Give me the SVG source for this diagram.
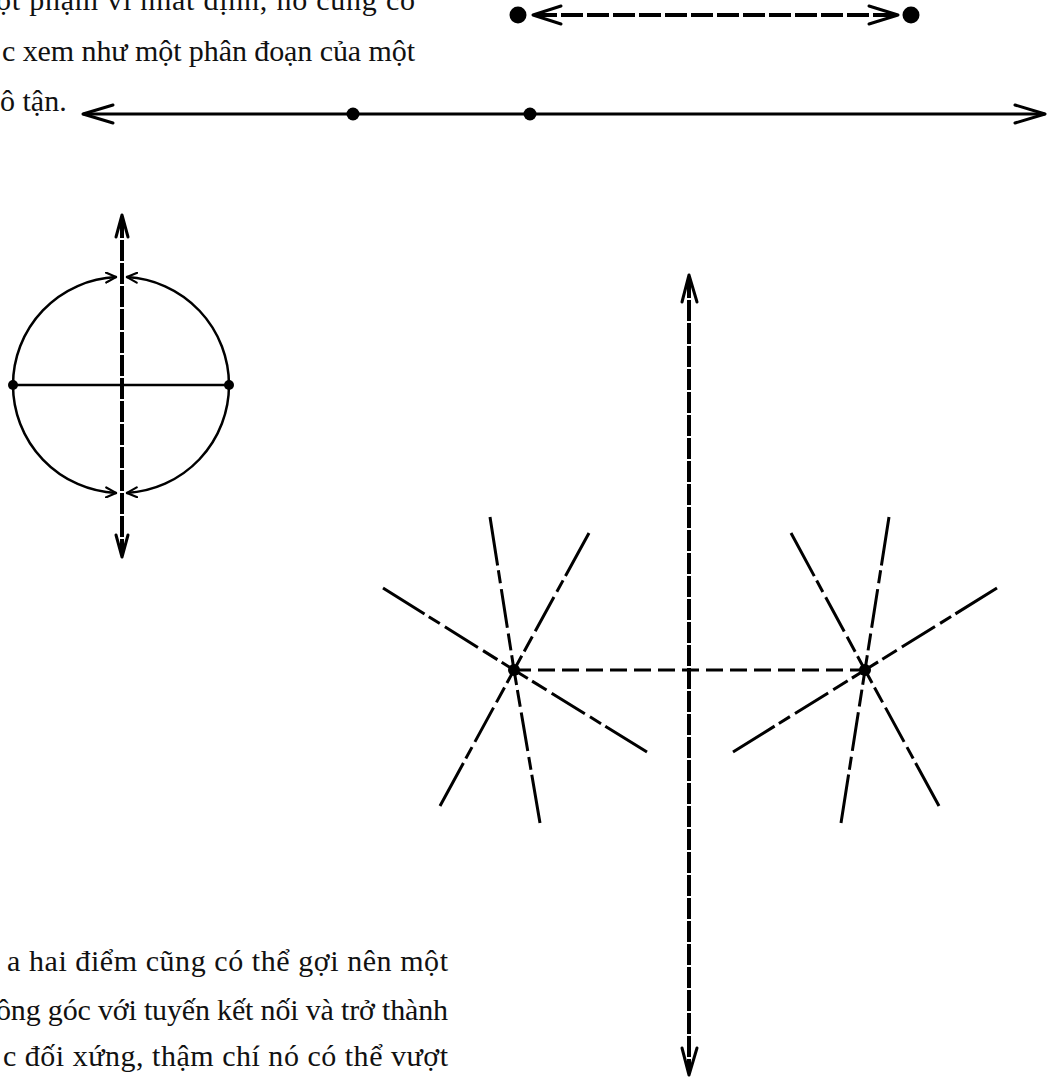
<svg xmlns="http://www.w3.org/2000/svg" width="1048" height="1080" viewBox="0 0 1048 1080">
<style>
.txt{font-family:"Liberation Serif","Times New Roman",serif;font-size:30px;fill:#111}
.ln{stroke:#000;fill:none;stroke-linecap:round;stroke-linejoin:round}
.dot{fill:#000}
.axis{stroke:#000;stroke-width:4;fill:none;stroke-dasharray:21 2}
.head{stroke:#000;stroke-width:3;fill:none;stroke-linecap:round;stroke-linejoin:round}
.star{stroke:#000;stroke-width:3;fill:none;stroke-dasharray:49 5 13 6 39 6 17 5 40 0}
.link{stroke:#000;stroke-width:3;fill:none;stroke-dasharray:17 7}
</style>
<defs>
<marker id="arc" viewBox="0 0 12 12" refX="11" refY="6" markerWidth="12" markerHeight="12" markerUnits="userSpaceOnUse" orient="auto">
<path d="M1,1 L11,6 L1,11" fill="none" stroke="#000" stroke-width="2.2" stroke-linecap="round" stroke-linejoin="round"/>
</marker>
</defs>
<rect width="1048" height="1080" fill="#fff"/>

<g id="text-top">
<text class="txt" x="-4" y="10" textLength="419" lengthAdjust="spacing">ột phạm vi nhất định, nó cũng có</text>
<text class="txt" x="2" y="61" textLength="413" lengthAdjust="spacing">c xem như một phân đoạn của một</text>
<text class="txt" x="0" y="111">ô tận.</text>
</g>

<g id="text-bottom">
<text class="txt" x="7" y="971" textLength="441" lengthAdjust="spacing">a hai điểm cũng có thể gợi nên một</text>
<text class="txt" x="-4" y="1020" textLength="452" lengthAdjust="spacing">ông góc với tuyến kết nối và trở thành</text>
<text class="txt" x="3" y="1066" textLength="445" lengthAdjust="spacing">c đối xứng, thậm chí nó có thể vượt</text>
</g>

<g id="segment-top">
<circle class="dot" cx="518" cy="15" r="8.5"/>
<circle class="dot" cx="911" cy="15" r="8.5"/>
</g>

<g id="line-infinite">
<circle class="dot" cx="353" cy="114" r="6.5"/>
<circle class="dot" cx="530" cy="114" r="6.5"/>
</g>

<g id="circle-figure">
<line class="ln" x1="13" y1="385" x2="229" y2="385" stroke-width="2.5"/>
<circle class="dot" cx="13" cy="385" r="5"/>
<circle class="dot" cx="229" cy="385" r="5"/>
</g>

<g id="star-left">
<line class="star" x1="383" y1="588" x2="514" y2="670"/>
<line class="star" x1="647" y1="752" x2="514" y2="670"/>
<line class="star" x1="490" y1="517" x2="514" y2="670"/>
<line class="star" x1="540" y1="823" x2="514" y2="670"/>
<line class="star" x1="589" y1="533" x2="514" y2="670"/>
<line class="star" x1="440" y1="806" x2="514" y2="670"/>
<circle class="dot" cx="514" cy="670" r="6"/>
</g>

<g id="star-right">
<line class="star" x1="997" y1="588" x2="865" y2="670"/>
<line class="star" x1="733" y1="752" x2="865" y2="670"/>
<line class="star" x1="889" y1="517" x2="865" y2="670"/>
<line class="star" x1="841" y1="823" x2="865" y2="670"/>
<line class="star" x1="791" y1="533" x2="865" y2="670"/>
<line class="star" x1="939" y1="806" x2="865" y2="670"/>
<circle class="dot" cx="865" cy="670" r="6"/>
</g>

<g id="connectors">
<line x1="535" y1="15" x2="896" y2="15" stroke="#000" stroke-width="4" stroke-dasharray="22 4"/>
<path class="head" d="M561,6 L533,15 L561,24"/>
<path class="head" d="M869,6 L898,15 L869,24"/>
<line class="ln" x1="84" y1="114" x2="1044" y2="114" stroke-width="3"/>
<path class="head" d="M113,105 L83,114 L113,123"/>
<path class="head" d="M1015,105 L1045,114 L1015,123"/>
<path class="ln" stroke-width="2.5" d="M13,385 A108,108 0 0 1 116,277.1" marker-end="url(#arc)"/>
<path class="ln" stroke-width="2.5" d="M229,385 A108,108 0 0 0 127,277.1" marker-end="url(#arc)"/>
<path class="ln" stroke-width="2.5" d="M13,385 A108,108 0 0 0 116,492.9" marker-end="url(#arc)"/>
<path class="ln" stroke-width="2.5" d="M229,385 A108,108 0 0 1 127,492.9" marker-end="url(#arc)"/>
<line class="axis" x1="122" y1="217" x2="122" y2="555"/>
<path class="head" d="M116,237 L122,215 L128,237"/>
<path class="head" d="M116,535 L122,557 L128,535"/>
<line class="axis" x1="689" y1="277" x2="689" y2="1073"/>
<path class="head" d="M682,302 L689,275 L697,302"/>
<path class="head" d="M682,1048 L689,1075 L697,1048"/>
<line class="link" x1="514" y1="670" x2="865" y2="670"/>
</g>
</svg>
